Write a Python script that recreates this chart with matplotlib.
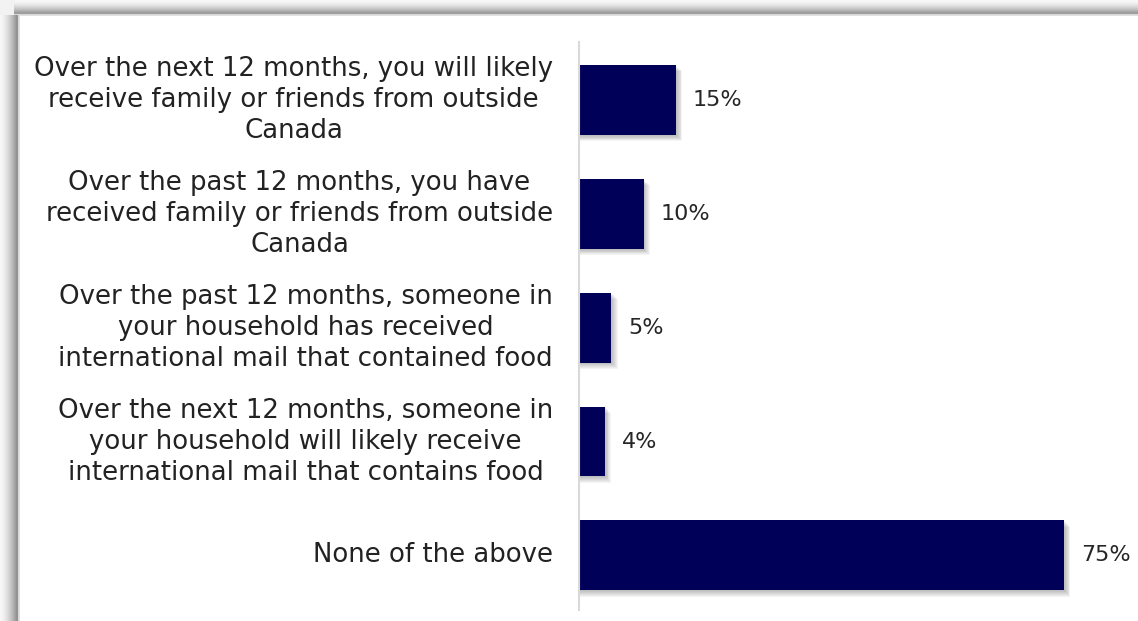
import numpy as np
import matplotlib
matplotlib.use("Agg")
import matplotlib.pyplot as plt
from matplotlib.patches import Rectangle

# Survey responses (share of respondents, %)
categories = [
    "Over the next 12 months, you will likely\nreceive family or friends from outside\nCanada",
    "Over the past 12 months, you have\nreceived family or friends from outside\nCanada",
    "Over the past 12 months, someone in\nyour household has received\ninternational mail that contained food",
    "Over the next 12 months, someone in\nyour household will likely receive\ninternational mail that contains food",
    "None of the above",
]
values = [15, 10, 5, 4, 75]
value_labels = ["15%", "10%", "5%", "4%", "75%"]

W, H, DPI = 1138, 621, 100
fig = plt.figure(figsize=(W / DPI, H / DPI), dpi=DPI)

# Background with a soft grey frame along the top and left edges
bg = np.ones((H, W, 3))
def band(n, dark_at, dark_val):
    prof = np.ones(n + 4)
    for i in range(n):
        t = i / dark_at
        prof[i] = 0.97 - (0.97 - dark_val) * min(t, 1.0) ** 1.6
    prof[n] = 0.85
    prof[n + 1] = 0.88
    prof[n + 2:] = 1.0
    return prof
left = band(18, 16, 0.58)
top = band(14, 12, 0.62)
for x in range(len(left)):
    bg[15:, x, :] = np.minimum(bg[15:, x, :], left[x])
for y in range(len(top)):
    bg[y, 14:, :] = np.minimum(bg[y, 14:, :], top[y])
bg[:15, :15, :] = np.minimum(bg[:15, :15, :], 0.95)
fig.figimage(bg, xo=0, yo=0, origin="upper", zorder=-10)

px_per_unit = 6.467
ax_left, ax_right = 579, 1100
ax_top, ax_bot = 42, 610
ax = fig.add_axes([ax_left / W, (H - ax_bot) / H, (ax_right - ax_left) / W, (ax_bot - ax_top) / H])
ax.set_zorder(5)
ax.patch.set_alpha(0)
ax.set_xlim(0, (ax_right - ax_left) / px_per_unit)
ax.set_ylim(4.48, -0.51)

ypos = np.arange(len(categories))
bar_h = 0.614
bar_color = "#000058"

# Soft drop shadow under each bar (stacked translucent layers)
unit_y = 1 / 114.0
for k in range(1, 8):
    off = k * 0.9
    for y, v in zip(ypos, values):
        ax.add_patch(Rectangle((0.0, y - bar_h / 2 + off * unit_y), v + off / px_per_unit, bar_h,
                               facecolor="#404040", alpha=0.055, edgecolor="none", zorder=1))

ax.barh(ypos, values, height=bar_h, color=bar_color, zorder=2)

for y, v, lab in zip(ypos, values, value_labels):
    ax.text(v + 17 / px_per_unit, y, lab, va="center", ha="left",
            fontsize=16, color="#262626", family="DejaVu Sans")

ax.set_yticks(ypos)
ax.set_yticklabels(categories, fontsize=18.7, color="#222222", family="DejaVu Sans",
                   linespacing=1.25, va="center")
for lbl in ax.get_yticklabels():
    lbl.set_multialignment("center")
ax.tick_params(axis="y", length=0, pad=26 * 72 / DPI)
ax.set_xticks([])
for s in ["top", "right", "bottom"]:
    ax.spines[s].set_visible(False)
ax.spines["left"].set_color("#d9d9d9")
ax.spines["left"].set_linewidth(1.5)

fig.savefig("out.png", dpi=DPI)
